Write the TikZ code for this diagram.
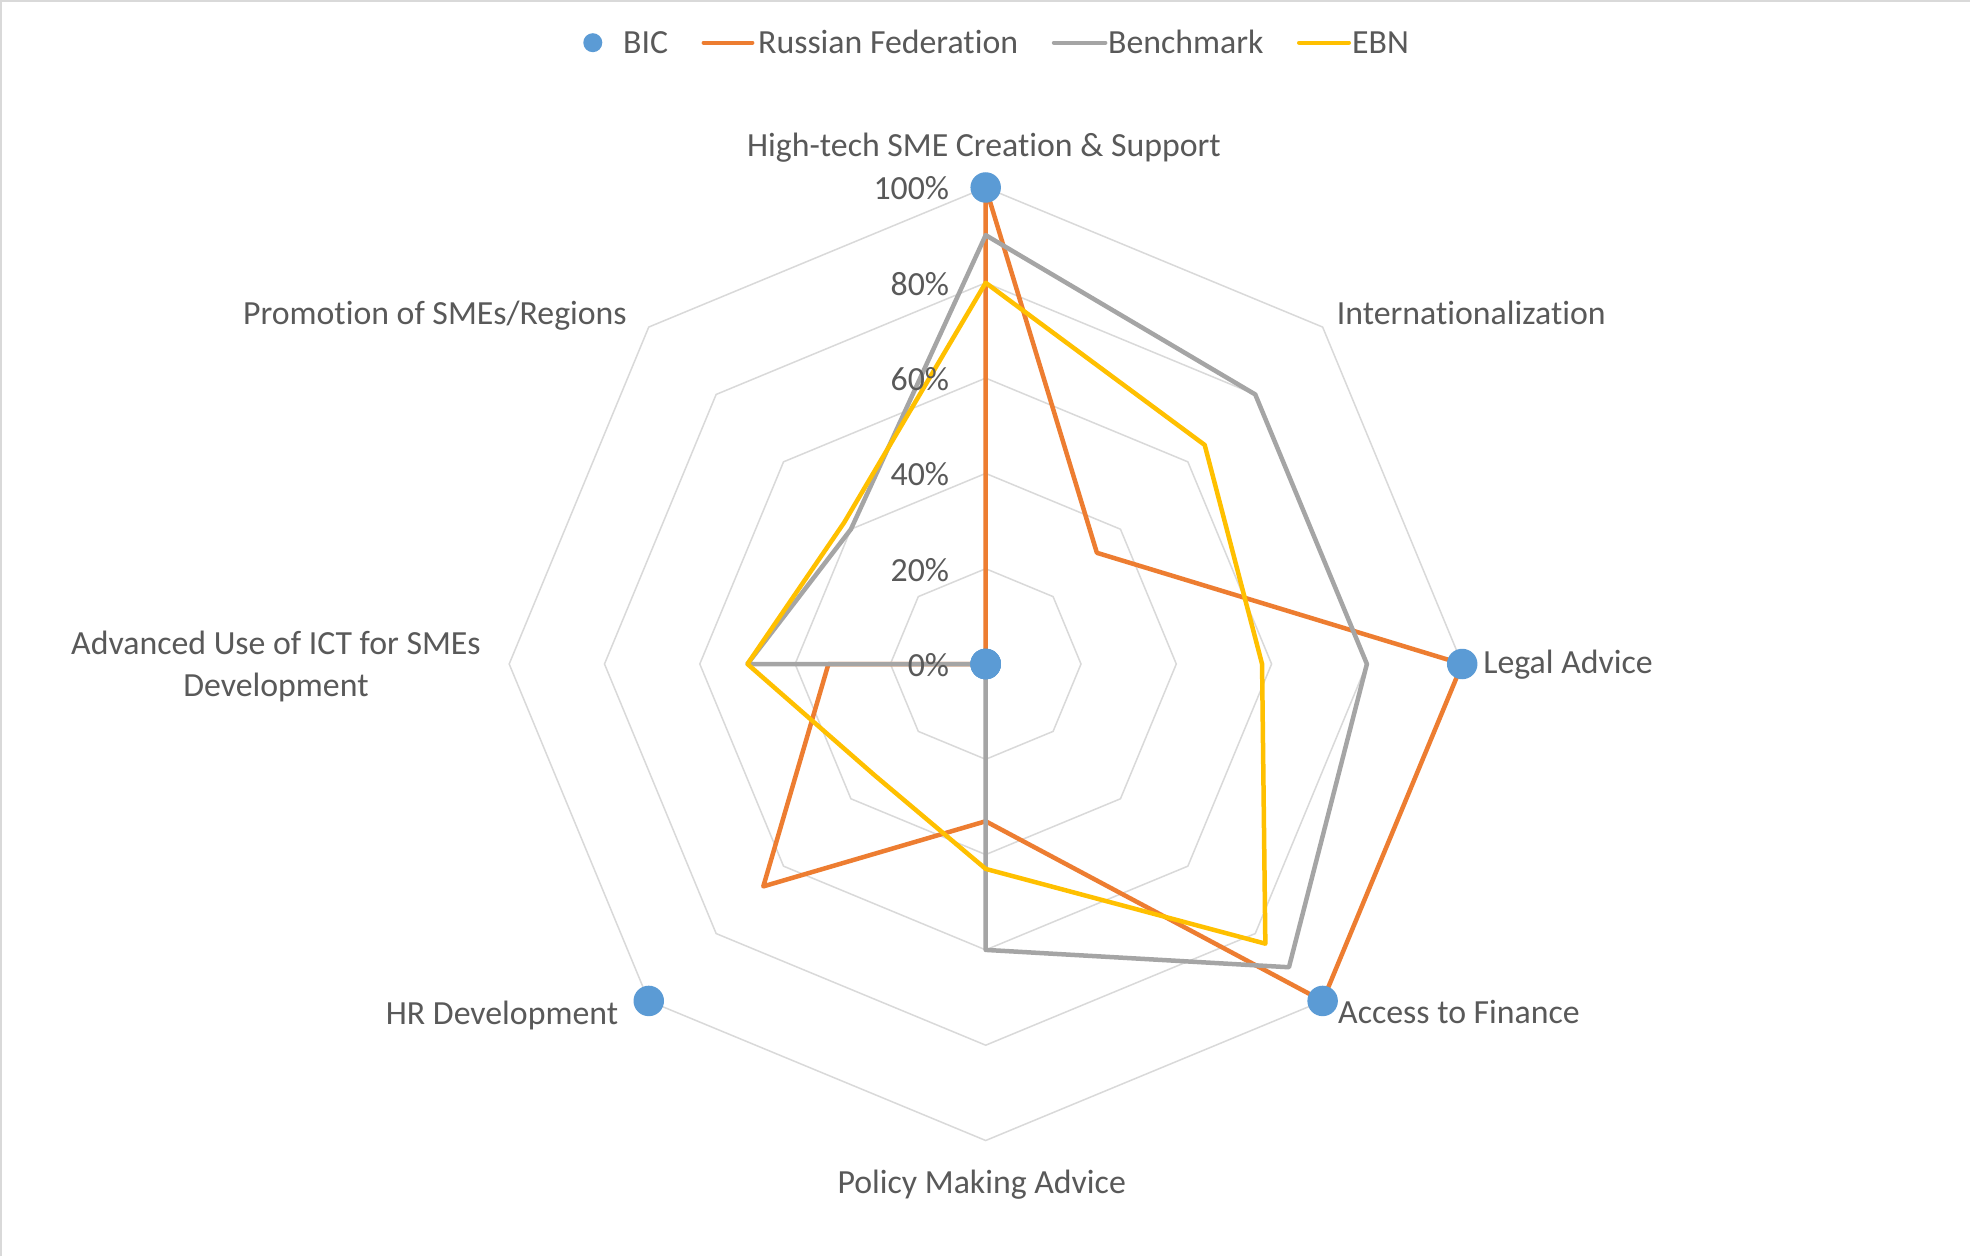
\documentclass[tikz,border=0pt]{standalone}
\usepackage{fontspec}
\setmainfont{Carlito}[Ligatures=NoCommon]
\definecolor{bic}{HTML}{5B9BD5}
\definecolor{rus}{HTML}{ED7D31}
\definecolor{bench}{HTML}{A5A5A5}
\definecolor{ebn}{HTML}{FFC000}
\definecolor{gridc}{HTML}{D9D9D9}
\definecolor{txt}{HTML}{595959}
\newcommand\defseries[2]{\foreach \v [count=\i from 0] in {#2} {\coordinate (#1\i) at ({90-45*\i}:{\v*4.765});}}
\begin{document}
\begin{tikzpicture}[x=1pt,y=1pt,
  lbl/.style={inner sep=0pt, text=txt, font=\fontsize{33.8}{42}\selectfont},
  gridline/.style={draw=gridc, line width=1.5pt},
  series/.style={line width=4.5pt, line join=round},
  legline/.style={line width=4pt, line cap=round},
  bicmark/.style={circle, fill=bic, inner sep=0pt, minimum size=30.5pt}]
\useasboundingbox (-985.7,-592) rectangle (984.3,664);
\fill[white] (-985.7,-592) rectangle (984.3,664);
\draw[gridc, line width=2pt] (-984.7,-592) -- (-984.7,663) -- (984.3,663);
% grid
\foreach \k in {1,...,5} {
  \draw[gridline] (90:\k*95.3) \foreach \j in {1,...,7}{ -- ({90-45*\j}:\k*95.3)} -- cycle;
}
% data
\defseries{r}{100,33,100,100,33,66,33,0}
\defseries{g}{90,80,80,90,60,0,50,40}
\defseries{y}{80,65,58,83,43,33,50,42}
\defseries{b}{100,0,100,100,0,100,0,0}
\draw[series, rus] (r0) -- (r1) -- (r2) -- (r3) -- (r4) -- (r5) -- (r6) -- (r7) -- cycle;
\draw[series, bench] (g0) -- (g1) -- (g2) -- (g3) -- (g4) -- (g5) -- (g6) -- (g7) -- cycle;
\draw[series, ebn] (y0) -- (y1) -- (y2) -- (y3) -- (y4) -- (y5) -- (y6) -- (y7) -- cycle;
\foreach \i in {0,...,7} { \node[bicmark] (m\i) at (b\i) {}; }
% ticks
\foreach \t in {0,20,40,60,80,100} {
  \node[lbl, anchor=base east] (tick\t) at (-36.4, {\t*4.765-12.5}) {\t\%};
}
% axis labels
\node[lbl, anchor=base] (ax0) at (-1.7,507.3) {High-tech SME Creation \& Support};
\node[lbl, anchor=base west] (ax1) at (351,339.7) {Internationalization};
\node[lbl, anchor=base west] (ax2) at (497.5,-9.3) {Legal Advice};
\node[lbl, anchor=base west] (ax3) at (352.3,-359.3) {Access to Finance};
\node[lbl, anchor=base] (ax4) at (-4,-529.3) {Policy Making Advice};
\node[lbl, anchor=base east] (ax5) at (-367.4,-360.3) {HR Development};
\node[lbl, align=center, anchor=center] (ax6) at (-709.7,-2) {Advanced Use of ICT for SMEs\\Development};
\node[lbl, anchor=base east] (ax7) at (-358.7,339.7) {Promotion of SMEs/Regions};
% legend
\node[bicmark, minimum size=19pt] (legbic) at (-392.9,621.3) {};
\node[lbl, anchor=base west] (legbictxt) at (-362.7,610.7) {BIC};
\coordinate (lr1) at (-282.1,621.3); \coordinate (lr2) at (-233.3,621.3);
\draw[legline, rus] (lr1) -- (lr2);
\node[lbl, anchor=base west] (legrustxt) at (-227.7,610.7) {Russian Federation};
\coordinate (lg1) at (68.1,621.3); \coordinate (lg2) at (119.7,621.3);
\draw[legline, bench] (lg1) -- (lg2);
\node[lbl, anchor=base west] (legbenchtxt) at (122.3,610.7) {Benchmark};
\coordinate (ly1) at (313.3,621.3); \coordinate (ly2) at (363.3,621.3);
\draw[legline, ebn] (ly1) -- (ly2);
\node[lbl, anchor=base west] (legebntxt) at (366.3,610.7) {EBN};
\end{tikzpicture}
\end{document}
